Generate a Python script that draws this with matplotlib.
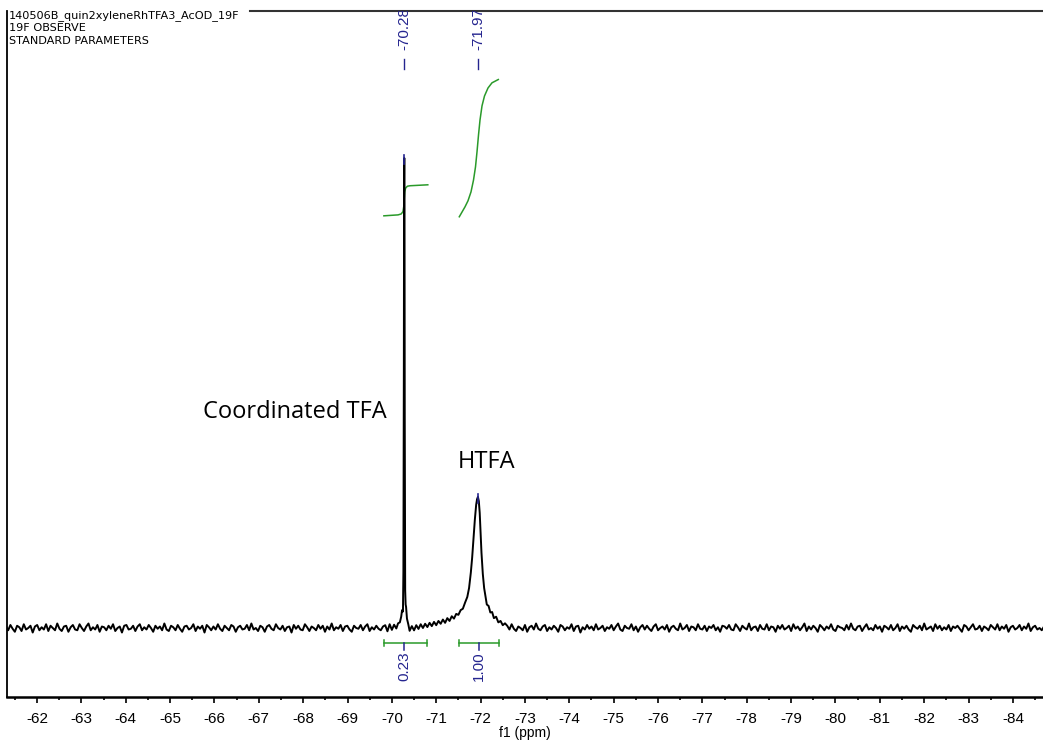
import numpy as np
import matplotlib
matplotlib.use('Agg')
import matplotlib.pyplot as plt

plt.rcParams['axes.unicode_minus'] = False

# En-tete du spectre (texte en haut a gauche)
entete = ["140506B_quin2xyleneRhTFA3_AcOD_19F", "19F OBSERVE", "STANDARD PARAMETERS"]

# Pics detectes (ppm, hauteur relative, etiquette)
pics_ppm = [-70.28, -71.94]
pics_hauteur = [1.0, 0.279]
pics_etiquettes = ["-70.28", "-71.97"]

# Integrales : bornes, centre et valeur
integrales_bornes = [(-69.82, -70.79), (-71.52, -72.42)]
integrales_centre = [-70.28, -71.97]
integrales_valeurs = ["0.23", "1.00"]

# Courbes d'integration
integrale1_ppm = [-69.82, -70.14, -70.21, -70.25, -70.27, -70.28, -70.29, -70.31, -70.35, -70.41, -70.81]
integrale1_y = [0.877, 0.879, 0.881, 0.886, 0.898, 0.915, 0.928, 0.936, 0.940, 0.941, 0.943]
integrale2_ppm = [-71.520, -71.581, -71.648, -71.716, -71.784, -71.840, -71.885, -71.919,
                  -71.953, -71.987, -72.032, -72.088, -72.167, -72.257, -72.399]
integrale2_y = [0.875, 0.885, 0.896, 0.909, 0.928, 0.953, 0.981, 1.013,
                1.049, 1.081, 1.111, 1.132, 1.149, 1.160, 1.167]

# Zone des pics (ppm, intensite relative)
zone_ppm = [-69.85, -69.90, -69.95, -70.00, -70.05, -70.10, -70.14, -70.18, -70.21, -70.23,
            -70.25, -70.26, -70.27, -70.275, -70.28, -70.285, -70.29, -70.30, -70.31, -70.32,
            -70.34, -70.37, -70.40, -70.45, -70.50, -70.55, -70.60, -70.65, -70.70, -70.75,
            -70.80, -70.85, -70.90, -70.95, -71.00, -71.05, -71.10, -71.15, -71.20, -71.25,
            -71.30, -71.35, -71.40, -71.45, -71.50, -71.55, -71.60, -71.65, -71.70, -71.74,
            -71.78, -71.81, -71.84, -71.87, -71.90, -71.92, -71.94, -71.96, -71.98, -72.00,
            -72.02, -72.05, -72.08, -72.11, -72.14, -72.18, -72.22, -72.26, -72.30, -72.35,
            -72.40, -72.45, -72.50, -72.55]
zone_int = [0.006, -0.007, 0.008, -0.004, 0.007, -0.001, 0.010, 0.012, 0.024, 0.038,
            0.035, 0.12, 0.55, 0.93, 1.000, 0.90, 0.45, 0.08, 0.050, 0.045,
            0.020, 0.008, -0.006, 0.004, -0.005, 0.006, -0.002, 0.008, 0.000, 0.009,
            0.002, 0.011, 0.004, 0.013, 0.006, 0.015, 0.009, 0.018, 0.011, 0.021,
            0.015, 0.025, 0.020, 0.030, 0.028, 0.038, 0.041, 0.054, 0.066, 0.085,
            0.118, 0.150, 0.190, 0.230, 0.262, 0.274, 0.279, 0.270, 0.245, 0.205,
            0.160, 0.115, 0.085, 0.068, 0.050, 0.047, 0.033, 0.034, 0.021, 0.024,
            0.012, 0.015, 0.006, 0.010]

# Bruit de la ligne de base (en milliemes), de -61.30 a -69.80 puis de -72.60 a -84.70
bruit_gauche = [2, -3, 4, -1, -5, 3, 1, -4, 5, -2, 0, 3, -6, 2, 4, -3, 1, -2, 5, -4,
                3, 0, -3, 6, -1, -4, 2, 3, -5, 1, 4, -2, -3, 5, 0, -4, 2, 6, -3, 1,
                -2, 4, -5, 2, 1, -3, 3, -1, 5, -4, 0, 2, -6, 3, 4, -2, -1, 3, -4, 2,
                5, -3, 1, -2, 4, 0, -5, 3, -1, 2, -3, 6, -2, -4, 3, 1, -3, 4, -1, -5,
                2, 3, -2, 0, 5, -4, 2, -1, 3, -6, 4, 1, -3, 2, -2, 5, -1, -4, 3, 0,
                -3, 4, 2, -5, 1, 3, -2, -1, 4, -3, 6, -2, 0, -4, 3, 1, -5, 2, 4, -1,
                -3, 5, 0, -2, 3, -4, 1, 2, -6, 4, -1, 3, -2, -3, 5, 1, -4, 2, 0, -3,
                4, -1, 3, -5, 2, -2, 6, -3, 1, -1, 4, -4, 2, 3, -2, -5, 3, 0, -1, 4,
                -3, 2, 5, -4, 1, -2, 3, -1, -3, 2]
bruit_droite = [3, -2, 5, -1, -4, 2, 0, -3, 4, -5, 1, 3, -2, 6, -1, -3, 2, 4, -4, 1,
                -2, 3, 0, -5, 4, 2, -3, 1, -1, 5, -4, 2, 3, -6, 1, -2, 4, -1, 2, -3,
                5, -2, 0, 3, -4, 1, -1, 4, -3, 2, 6, -2, -4, 3, 0, -1, 5, -3, 2, -5,
                1, 4, -2, 3, -1, -4, 2, 5, -3, 0, 2, -2, 4, -5, 1, 3, -1, -3, 6, -2,
                0, 4, -4, 2, 1, -3, 5, -1, -2, 3, -4, 2, 0, 4, -3, 1, -5, 3, 2, -1,
                4, -2, -3, 5, 1, -4, 3, 0, -2, 6, -3, 1, 2, -4, 4, -1, -2, 5, -3, 2,
                1, -5, 3, -1, 4, -2, 0, 3, -4, 5, -1, 2, -3, 1, 6, -4, 2, -2, 3, 0,
                -5, 4, 1, -3, 2, -1, 5, -2, -4, 3, 1, 0, -3, 4, -2, 6, -1, -3, 2, 3,
                -4, 1, 5, -2, 0, -3, 4, -1, 2, -5, 3, 1, -2, 4, -3, 0, 5, -4, 2, -1,
                3, -2, -5, 4, 1, -1, 3, -3, 6, -2, 0, 2, -4, 5, -1, 3, -3, 1, -2, 4,
                -4, 2, 0, 3, -1, -5, 4, 2, -3, 1, 5, -2, -1, 3, -4, 2, 0, -3, 4, 1,
                -2, 5, -3, 2, -1, 4, -5, 1, 3, -2, 0, 4, -3, 2, -1, 6, -4, 1, 3, -2,
                0, -3, 2]

bleu = '#24248f'
vert = '#2a9a2a'

# Construction du spectre complet
ppm_gauche = np.linspace(-61.30, -69.80, len(bruit_gauche))
ppm_droite = np.linspace(-72.60, -84.70, len(bruit_droite))
x = np.concatenate([ppm_gauche, zone_ppm, ppm_droite])
y = np.concatenate([np.array(bruit_gauche) * 0.0016, zone_int, np.array(bruit_droite) * 0.0016])

fig = plt.figure(figsize=(10.43, 7.40), dpi=100)
ax = fig.add_axes([7 / 1043, 43 / 740, 1 - 7 / 1043, 686 / 740])

# Spectre
ax.plot(x, y, color='black', lw=1.4, zorder=3)

# Courbes d'integration
ax.plot(integrale1_ppm, integrale1_y, color=vert, lw=1.1)
ax.plot(integrale2_ppm, integrale2_y, color=vert, lw=1.1)

# Etiquettes des pics en haut
for p, h, etiq in zip(pics_ppm, pics_hauteur, pics_etiquettes):
    ax.plot([p, p], [1.189, 1.210], color=bleu, lw=1)
    ax.plot([p, p], [h - 0.012, h + 0.006], color=bleu, lw=1.2, zorder=4)
    ax.text(p, 1.229, etiq, rotation=90, ha='center', va='bottom', color=bleu,
            fontsize=11, family='Liberation Sans', clip_on=True)

# Barres d'integration
for (a, b), c, val in zip(integrales_bornes, integrales_centre, integrales_valeurs):
    ax.plot([a, b], [-0.032, -0.032], color=vert, lw=1.1)
    ax.plot([a, a], [-0.039, -0.025], color=vert, lw=1.1)
    ax.plot([b, b], [-0.039, -0.025], color=vert, lw=1.1)
    ax.plot([c, c], [-0.032, -0.047], color=bleu, lw=1.1)
    ax.text(c, -0.049, val, rotation=90, ha='center', va='top', color=bleu,
            fontsize=11, family='Liberation Sans')

# Annotations
ax.text(-67.805, 0.46, "Coordinated TFA", ha='center', va='center', fontsize=17, family='Open Sans')
ax.text(-72.133, 0.353, "HTFA", ha='center', va='center', fontsize=17, family='Open Sans')

# Axes
ax.set_xlim(-61.324, -84.678)
ax.set_ylim(-0.1468, 1.3128)
ax.set_xticks(np.arange(-62, -85, -1))
ax.set_xticks(np.arange(-61.5, -85, -1), minor=True)
ax.set_yticks([])
ax.tick_params(axis='x', which='major', length=4, width=1.2, labelsize=11, pad=7)
ax.tick_params(axis='x', which='minor', length=2, width=1.2)
for lab in ax.get_xticklabels():
    lab.set_family('Liberation Sans')
ax.set_xlabel("f1 (ppm)", fontsize=10, family='Liberation Sans', labelpad=0)

ax.spines['right'].set_visible(False)
ax.spines['top'].set_visible(False)
ax.spines['left'].set_linewidth(1.3)
ax.spines['bottom'].set_linewidth(1.8)
ax.plot([245 / 1043, 1.0], [1.0, 1.0], transform=ax.transAxes, color='#333333', lw=1.5, clip_on=False)

# En-tete
fig.text(9 / 1043, 1 - 10 / 740, "\n".join(entete), ha='left', va='top', fontsize=8.1,
         family='DejaVu Sans', linespacing=1.3)

fig.savefig('out.png', dpi=100)
